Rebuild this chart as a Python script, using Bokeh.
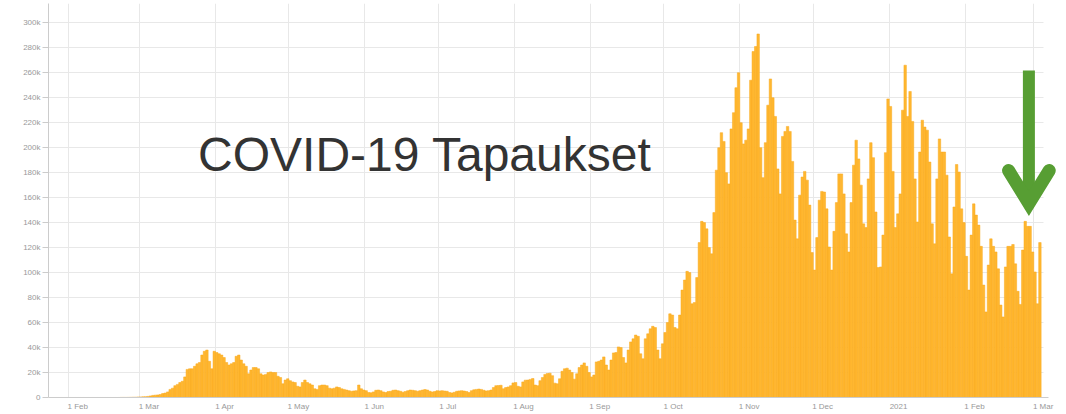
import pandas as pd
from bokeh.plotting import figure
from bokeh.models import ColumnDataSource, FixedTicker, Range1d, Label, Grid
from bokeh.embed import file_html
from bokeh.resources import INLINE

# ---------------- data (daily new cases) ----------------
start_date = "2020-01-24"
cases_2020_01 = [0, 0, 1, 2, 3, 2, 5, 3]
cases_2020_02 = [3, 2, 4, 2, 3, 5, 4, 2, 6, 3, 4, 2, 5, 4, 3, 6, 2, 4, 3, 5,
                 20, 80, 90, 80, 120, 170, 230, 260, 420]
cases_2020_03 = [500, 600, 700, 900, 1300, 1700, 1900, 2100, 2400, 3200, 3600, 4500,
                 6500, 7500, 9500, 10500, 12000, 13000, 16500, 22500, 23000, 23000,
                 25000, 27000, 28000, 34000, 37000, 38000, 29000, 23000, 37000]
cases_2020_04 = [36000, 35000, 34000, 32000, 28000, 26000, 27000, 28000, 33000, 34000,
                 30000, 27000, 25000, 19000, 22000, 24000, 24000, 23000, 19000, 18000,
                 18500, 20000, 20500, 20000, 20000, 17000, 16000, 11000, 14000, 15000]
cases_2020_05 = [13500, 12500, 12000, 9000, 8500, 12000, 14000, 12000, 11000, 10000,
                 7000, 6500, 9500, 10000, 10000, 9500, 7500, 7000, 7500, 8500,
                 8000, 7000, 6500, 6000, 5500, 5000, 5300, 5500, 10000, 7000, 6000]
cases_2020_06 = [5500, 4000, 3800, 4500, 5800, 6000, 5500, 4500, 4000, 4800,
                 5000, 5800, 6000, 5500, 5000, 4300, 4800, 5500, 6000, 5800,
                 5500, 5000, 5500, 6000, 6400, 6000, 5000, 4500, 4800, 5500]
cases_2020_07 = [5300, 5500, 5200, 5000, 4000, 3700, 4200, 5000, 5300, 5500,
                 5200, 4800, 4000, 5500, 6200, 6500, 6800, 6500, 5800, 5300,
                 5500, 6000, 8000, 9500, 9600, 9800, 7000, 8000, 8500, 9500, 11700]
cases_2020_08 = [12000, 9000, 8500, 12500, 13900, 14000, 14500, 15200, 10000, 9500,
                 13500, 16000, 18500, 19200, 19500, 17500, 11500, 11000, 15000, 21000,
                 23000, 23500, 22000, 20000, 14700, 19000, 24000, 26000, 27700, 25000, 20000]
cases_2020_09 = [16500, 18000, 28500, 29000, 30000, 32500, 26000, 22000, 30000, 35700,
                 36000, 40500, 40000, 32000, 27700, 38000, 44500, 47000, 50000, 49000,
                 35000, 31000, 47000, 51000, 55000, 57000, 56000, 38000, 31000, 43000]
cases_2020_10 = [52000, 60000, 67000, 66000, 56000, 55000, 66000, 86000, 94000, 101000,
                 100000, 75000, 76000, 96000, 124000, 141000, 140000, 135000, 120000, 115000,
                 148000, 182000, 200000, 212000, 205000, 180000, 171000, 215000, 228000,
                 248000, 260000]
cases_2020_11 = [220000, 203000, 206000, 215000, 254000, 277000, 281000, 291000, 200000,
                 176000, 204000, 234000, 255000, 240000, 225000, 183000, 163000, 209000,
                 213000, 217000, 213000, 189000, 142000, 127000, 162000, 176500, 181000,
                 174000, 154000, 116000]
cases_2020_12 = [102000, 128000, 158000, 165000, 164500, 151000, 120500, 102000, 133000,
                 156000, 179000, 179000, 163000, 131000, 116500, 156000, 186000, 206000,
                 191000, 170000, 139000, 136000, 175000, 204000, 192000, 148500, 104000,
                 104500, 130000, 196000, 239000]
cases_2021_01 = [233000, 181000, 136000, 147000, 163000, 230000, 266000, 225000, 245000,
                 221000, 175000, 140500, 196500, 222000, 216500, 214000, 188500, 139000,
                 123000, 175000, 207000, 196500, 196500, 178000, 128500, 99000, 152500,
                 186500, 180500, 151000, 140000]
cases_2021_02 = [113000, 86000, 130000, 155000, 146000, 138000, 121000, 90000, 68500,
                 106000, 127000, 121000, 116500, 103000, 74000, 64500, 104500, 121000,
                 121000, 122500, 107000, 85000, 74500, 118000, 141000, 137000, 137000, 116500]
cases_2021_03 = [100500, 75000, 124000]

month_ticks = ["2020-02-01", "2020-03-01", "2020-04-01", "2020-05-01", "2020-06-01",
               "2020-07-01", "2020-08-01", "2020-09-01", "2020-10-01", "2020-11-01",
               "2020-12-01", "2021-01-01", "2021-02-01", "2021-03-01"]
month_labels = ["1 Feb", "1 Mar", "1 Apr", "1 May", "1 Jun", "1 Jul", "1 Aug", "1 Sep",
                "1 Oct", "1 Nov", "1 Dec", "2021", "1 Feb", "1 Mar"]
y_ticks = [0, 20000, 40000, 60000, 80000, 100000, 120000, 140000, 160000, 180000,
           200000, 220000, 240000, 260000, 280000, 300000]
y_labels = ["0", "20k", "40k", "60k", "80k", "100k", "120k", "140k", "160k", "180k",
            "200k", "220k", "240k", "260k", "280k", "300k"]

title_text = "COVID-19 Tapaukset"

# ---------------- build ----------------
cases = (cases_2020_01 + cases_2020_02 + cases_2020_03 + cases_2020_04 + cases_2020_05
         + cases_2020_06 + cases_2020_07 + cases_2020_08 + cases_2020_09 + cases_2020_10
         + cases_2020_11 + cases_2020_12 + cases_2021_01 + cases_2021_02 + cases_2021_03)

DAY = 86400000.0


def ms(s):
    return pd.Timestamp(s).value / 1e6


dates = pd.date_range(start_date, periods=len(cases), freq="D")
xs = [ms(d) + DAY / 2 for d in dates]
src = ColumnDataSource(dict(x=xs, cases=cases))

origin = ms("2020-02-01")
x_start = origin - 8.16 * DAY
x_end = origin + 404.9 * DAY
data_edge = origin + 398.0 * DAY

p = figure(width=1060, height=414, output_backend="svg", toolbar_location=None,
           x_axis_type="datetime",
           x_range=Range1d(x_start, x_end), y_range=Range1d(0, 315400),
           min_border_left=48, min_border_right=0, min_border_top=3,
           min_border_bottom=17)
p.outline_line_color = None
p.background_fill_color = "white"
p.border_fill_color = "white"

p.vbar(x="x", top="cases", width=DAY, source=src,
       fill_color="#FFB730", line_color="#F9A81C", line_width=0.5)

# grid
tick_ms = [ms(t) for t in month_ticks]
p.xgrid.ticker = FixedTicker(ticks=tick_ms)
p.xgrid.grid_line_color = "#e8e8e8"
p.ygrid.ticker = FixedTicker(ticks=y_ticks)
p.ygrid.grid_line_color = "#e8e8e8"
if "cross_bounds" in Grid.properties():
    p.ygrid.cross_bounds = (x_start, data_edge)

# x axis: labels sit just right of each month line
label_pos = [int(t + 3.8 * DAY) for t in tick_ms]
xax = p.xaxis[0]
xax.ticker = FixedTicker(ticks=label_pos)
xax.major_label_overrides = {pos: lab for pos, lab in zip(label_pos, month_labels)}
xax.major_tick_out = 0
xax.major_tick_in = 0
xax.major_tick_line_color = None
xax.minor_tick_line_color = None
xax.axis_line_color = "#cccccc"
xax.bounds = (x_start, data_edge + 2 * DAY)
xax.major_label_standoff = 4
xax.major_label_text_font = "Liberation Sans"
xax.major_label_text_font_size = "8px"
xax.major_label_text_color = "#999999"

yax = p.yaxis[0]
yax.ticker = FixedTicker(ticks=y_ticks)
yax.major_label_overrides = {v: lab for v, lab in zip(y_ticks, y_labels)}
yax.major_tick_out = 6
yax.major_tick_in = 0
yax.major_tick_line_color = "#cccccc"
yax.minor_tick_line_color = None
yax.axis_line_color = "#cccccc"
yax.major_label_standoff = 2
yax.major_label_text_font = "Liberation Sans"
yax.major_label_text_font_size = "8px"
yax.major_label_text_color = "#999999"

# title text inside the plot
p.add_layout(Label(x=origin + 52.9 * DAY, y=194500, text=title_text,
                   text_font="Liberation Sans", text_font_size="48px",
                   text_color="#333333", text_align="left",
                   text_baseline="alphabetic"))

# green arrow
green = "#579E33"
arrow_x = ms("2021-02-27")
p.segment(x0=[arrow_x], y0=[261800], x1=[arrow_x], y1=[157700],
          line_width=12, line_color=green, line_cap="butt")
p.line(x=[arrow_x - 8.3 * DAY, arrow_x, arrow_x + 8.3 * DAY],
       y=[181700, 155300, 181700], line_width=13, line_color=green,
       line_join="miter", line_cap="round")

open("out.html", "w").write(file_html(p, INLINE))
